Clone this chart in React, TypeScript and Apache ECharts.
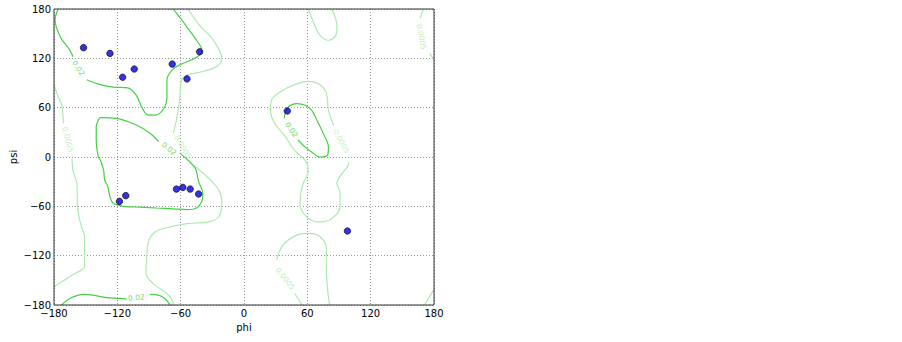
import React, { useEffect, useRef } from "react";
import * as echarts from "echarts";

type P = [number, number];

// Axis ticks
const phiTicks = [-180, -120, -60, 0, 60, 120, 180];
const psiTicks = [-180, -120, -60, 0, 60, 120, 180];

// Residue dihedral angles
const residuePhi = [-152, -127, -115, -104, -68, -54, -42, 41, -118, -112, -64, -58, -51, -43, 98];
const residuePsi = [133, 126, 97, 107, 113, 95, 128, 56, -54, -47, -39, -37, -39, -45, -90];

// Contour level 0.02 (segments, broken at labels)
const c002_a1: P[] = [[-176, 180], [-179, 167], [-174, 146], [-165, 130], [-162, 122]];
const c002_a2: P[] = [[-149, 94], [-136, 88], [-124, 85], [-110, 84], [-102, 75], [-97, 61], [-91, 51], [-84, 51], [-76, 59], [-73, 73], [-73, 94], [-68, 106], [-61, 112], [-50, 118], [-42, 124], [-40, 130], [-45, 142], [-54, 158], [-64, 175], [-67, 180]];
const c002_c1: P[] = [[-173, -180], [-165, -172], [-152, -167], [-143, -168], [-130, -171], [-117, -172], [-111, -173]];
const c002_c2: P[] = [[-89, -167], [-81, -168], [-75, -172], [-70, -180]];
const c002_b: P[] = [[-61, 5], [-53, -4], [-46, -14], [-43, -30], [-39, -44], [-40, -54], [-45, -62], [-54, -64], [-67, -63], [-83, -62], [-98, -61], [-114, -60], [-124, -56], [-127, -48], [-129, -36], [-132, -28], [-133, -16], [-136, -4], [-138, 0], [-140, 21], [-140, 37], [-138, 45], [-136, 48], [-121, 47], [-102, 39], [-89, 29], [-81, 19]];
const c002_d: P[] = [[38, 47], [39, 53], [42, 61], [50, 65], [58, 63], [64, 57], [69, 45], [75, 29], [80, 12], [79, 2], [72, 0], [64, 6], [58, 12], [51, 21]];

// Contour level 0.0005
const c0005_e: P[] = [[85, 38], [80, 57], [78, 78], [72, 88], [61, 92], [48, 88], [34, 79], [26, 69], [25, 57], [29, 41], [39, 25], [48, 8], [58, -4], [61, -16], [55, -36], [53, -56], [58, -71], [70, -79], [83, -75], [91, -60], [91, -44], [88, -32], [93, -20], [98, -12], [99, -6]];
const c0005_g1: P[] = [[55, -180], [48, -166]];
const c0005_g2: P[] = [[31, -125], [37, -107], [50, -95], [61, -93], [72, -97], [78, -111], [78, -133], [79, -158], [81, -180]];
const c0005_f: P[] = [[83, 180], [88, 160], [87, 148], [80, 142], [72, 148], [66, 163], [61, 180]];
const c0005_h1: P[] = [[-53, 180], [-42, 160], [-29, 142], [-21, 120], [-26, 110], [-39, 104], [-53, 100], [-59, 94], [-61, 69], [-64, 45], [-67, 29]];
const c0005_h2: P[] = [[-48, -10], [-35, -24], [-24, -40], [-21, -56], [-24, -73], [-34, -79], [-54, -81], [-70, -85], [-84, -91], [-91, -105], [-92, -121], [-93, -141], [-86, -154], [-73, -166], [-68, -174], [-67, -180]];
const c0005_i1: P[] = [[-180, 88], [-176, 73], [-173, 65], [-171, 41]];
const c0005_i2: P[] = [[-163, -2], [-162, -16], [-158, -36], [-158, -52], [-157, -68], [-154, -85], [-151, -97], [-151, -117], [-151, -133], [-162, -143], [-173, -152], [-180, -158]];
const c0005_j1: P[] = [[170, 180], [167, 169]];
const c0005_j2: P[] = [[176, 126], [180, 118]];
const c0005_k: P[] = [[171, -180], [180, -161]];

const lines002 = [c002_a1, c002_a2, c002_c1, c002_c2, c002_b, c002_d];
const lines0005 = [c0005_e, c0005_g1, c0005_g2, c0005_f, c0005_h1, c0005_h2, c0005_i1, c0005_i2, c0005_j1, c0005_j2, c0005_k];

// Contour labels
const labelTexts = ["0.02", "0.02", "0.02", "0.02", "0.0005", "0.0005", "0.0005", "0.0005", "0.0005"];
const labelPhi = [-157, -102, -71, 45, -167, -58, 92, 39, 168];
const labelPsi = [108, -171, 10, 33, 21, 12, 19, -148, 146];
const labelAngles = [-57, 6, -38, -55, -74, -58, -60, -52, -80];

const COLOR_HI = "#45d045";
const COLOR_LO = "#aeeaae";
const FONT = "DejaVu Sans";

const minus = (v: number) => String(v).replace("-", "\u2212");

export default function App() {
  const ref = useRef<HTMLDivElement>(null);
  useEffect(() => {
    if (!ref.current) return;
    const chart = echarts.init(ref.current, undefined, { renderer: "svg" });
    const lineSeries = (data: P[], color: string) => ({
      type: "line",
      data,
      showSymbol: false,
      symbol: "none",
      smooth: 0.35,
      silent: true,
      lineStyle: { color, width: 1.2 },
      z: 2,
    });
    const series: any[] = [
      ...lines0005.map((d) => lineSeries(d, COLOR_LO)),
      ...lines002.map((d) => lineSeries(d, COLOR_HI)),
      {
        type: "scatter",
        symbolSize: 0,
        silent: true,
        z: 3,
        data: labelTexts.map((t, i) => ({
          value: [labelPhi[i], labelPsi[i]],
          label: {
            show: true,
            position: "inside",
            formatter: t,
            rotate: labelAngles[i],
            color: t === "0.02" ? COLOR_HI : COLOR_LO,
            fontSize: 7.5,
            fontFamily: FONT,
          },
        })),
      },
      {
        type: "scatter",
        symbol: "circle",
        symbolSize: 6.5,
        z: 5,
        itemStyle: { color: "#0000dd", borderColor: "#000", borderWidth: 0.8 },
        data: residuePhi.map((p, i) => [p, residuePsi[i]]),
      },
    ];
    chart.setOption({
      animation: false,
      backgroundColor: "#fff",
      grid: {
        left: 54,
        top: 9,
        right: 468,
        bottom: 37,
        show: true,
        borderColor: "#333",
        borderWidth: 1,
        backgroundColor: "transparent",
        z: 10,
      },
      xAxis: {
        type: "value",
        min: phiTicks[0],
        max: phiTicks[phiTicks.length - 1],
        interval: 60,
        name: "phi",
        nameLocation: "middle",
        nameGap: 13,
        nameTextStyle: { fontFamily: FONT, fontSize: 10, color: "#000" },
        axisLine: { show: false },
        axisTick: { show: false },
        axisLabel: { margin: 3, fontFamily: FONT, fontSize: 10, color: "#000", formatter: minus },
        splitLine: { show: true, lineStyle: { color: "#999", width: 1, type: [1, 2] } },
      },
      yAxis: {
        type: "value",
        min: psiTicks[0],
        max: psiTicks[psiTicks.length - 1],
        interval: 60,
        name: "psi",
        nameLocation: "middle",
        nameRotate: 90,
        nameGap: 36,
        nameTextStyle: { fontFamily: FONT, fontSize: 10, color: "#000" },
        axisLine: { show: false },
        axisTick: { show: false },
        axisLabel: { margin: 3, fontFamily: FONT, fontSize: 10, color: "#000", formatter: minus },
        splitLine: { show: true, lineStyle: { color: "#999", width: 1, type: [1, 2] } },
      },
      series,
    });
    return () => chart.dispose();
  }, []);
  return <div ref={ref} style={{ position: "absolute", left: 0, top: 0, width: 902, height: 342 }} />;
}
